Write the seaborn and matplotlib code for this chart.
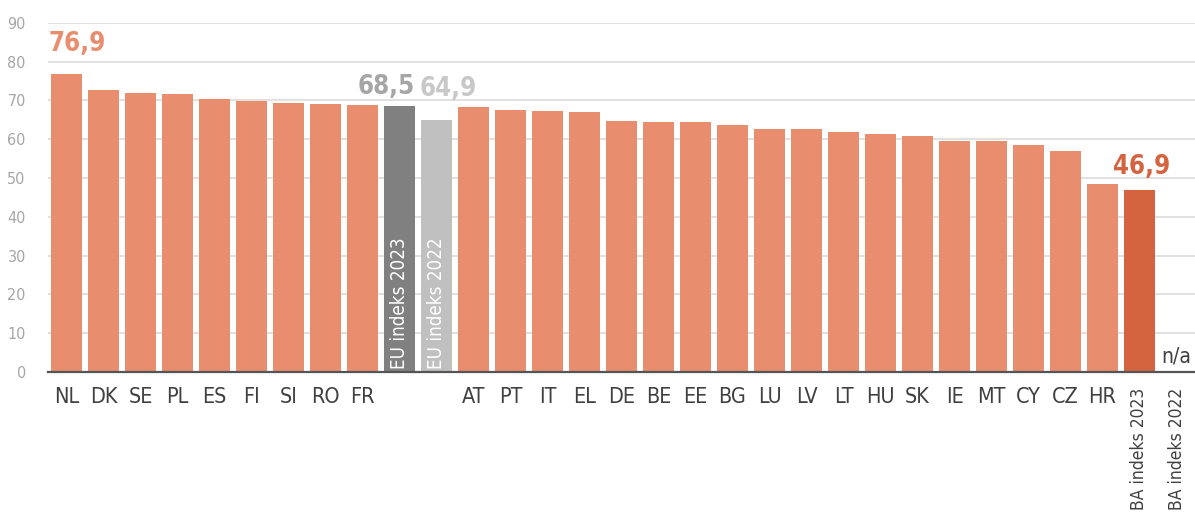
import numpy as np
import pandas as pd
import matplotlib
matplotlib.use("Agg")
import matplotlib.pyplot as plt
import seaborn as sns

categories = ["NL", "DK", "SE", "PL", "ES", "FI", "SI", "RO", "FR",
              "EU indeks 2023", "EU indeks 2022",
              "AT", "PT", "IT", "EL", "DE", "BE", "EE", "BG", "LU", "LV", "LT",
              "HU", "SK", "IE", "MT", "CY", "CZ", "HR",
              "BA indeks 2023", "BA indeks 2022"]
values = [76.9, 72.7, 71.9, 71.6, 70.3, 69.9, 69.3, 69.1, 68.8,
          68.5, 64.9,
          68.4, 67.5, 67.3, 67.0, 64.7, 64.5, 64.5, 63.7, 62.7, 62.7, 61.9,
          61.4, 60.9, 59.6, 59.6, 58.5, 57.0, 48.5,
          46.9, np.nan]
value_labels = {"NL": "76,9", "EU indeks 2023": "68,5", "EU indeks 2022": "64,9",
                "BA indeks 2023": "46,9"}
inside_labels = ["EU indeks 2023", "EU indeks 2022"]
rotated_ticks = ["BA indeks 2023", "BA indeks 2022"]
yticks = [0, 10, 20, 30, 40, 50, 60, 70, 80, 90]

SALMON = "#E88D6E"
colors = {c: SALMON for c in categories}
colors["EU indeks 2023"] = "#808080"
colors["EU indeks 2022"] = "#C0C0C0"
colors["BA indeks 2023"] = "#D4643F"
label_colors = {"NL": SALMON, "EU indeks 2023": "#A6A6A6",
                "EU indeks 2022": "#C8C8C8", "BA indeks 2023": "#D4643F"}
# (vertical gap above bar, x offset, horizontal alignment)
label_place = {"NL": (4.2, -0.48, "left"),
               "EU indeks 2023": (1.6, 0.42, "right"),
               "EU indeks 2022": (4.6, -0.45, "left"),
               "BA indeks 2023": (2.6, 0.05, "center")}

sns.set_style("white")
plt.rcParams['font.family'] = ['DejaVu Sans']
plt.rcParams['font.stretch'] = 'condensed'

df = pd.DataFrame({"cat": categories, "val": values})

fig = plt.figure(figsize=(11.95, 5.12), dpi=100)
ax = fig.add_axes([48/1195, 1-372/512, 1-48/1195, (372-22.7)/512])

sns.barplot(data=df, x="cat", y="val", hue="cat", order=categories,
            hue_order=categories, palette=colors, legend=False,
            width=31/37, saturation=1, ax=ax, zorder=3, linewidth=0)

ax.set_ylim(0, 90)
ax.set_xlim(-0.5, len(categories) - 0.5)
ax.set_yticks(yticks)
ax.set_yticklabels([str(t) for t in yticks], color="#A6A6A6", fontsize=11.5)
ax.yaxis.grid(True, color="#DCDCDC", linewidth=1.2, zorder=0)
ax.set_axisbelow(True)
ax.tick_params(axis="y", length=0, pad=16)
ax.tick_params(axis="x", length=0, pad=11)
for s in ["top", "right", "left"]:
    ax.spines[s].set_visible(False)
ax.spines["bottom"].set_color("#555555")
ax.spines["bottom"].set_linewidth(1.6)
ax.spines["bottom"].set_zorder(5)
ax.set_xlabel("")
ax.set_ylabel("")

ticklabels = ["" if c in inside_labels else c for c in categories]
ax.set_xticks(range(len(categories)))
ax.set_xticklabels(ticklabels, fontsize=15.5, color="#404040")
for lbl, c in zip(ax.get_xticklabels(), categories):
    if c in rotated_ticks:
        lbl.set_rotation(90)
        lbl.set_va("top")
        lbl.set_ha("center")
        lbl.set_fontsize(12.5)

for i, c in enumerate(categories):
    v = values[i]
    if c in value_labels:
        gap, dx, ha = label_place[c]
        ax.text(i + dx, v + gap, value_labels[c], ha=ha, va="bottom",
                fontsize=18.5, fontweight="bold", color=label_colors[c], zorder=6)
    if c in inside_labels:
        ax.text(i, 0.8, c, rotation=90, ha="center", va="bottom",
                fontsize=13.5, color="white", zorder=6)
    if np.isnan(v):
        ax.text(i, 1.5, "n/a", ha="center", va="bottom", fontsize=15,
                color="#404040", zorder=6)

fig.savefig("out.png", dpi=100)
